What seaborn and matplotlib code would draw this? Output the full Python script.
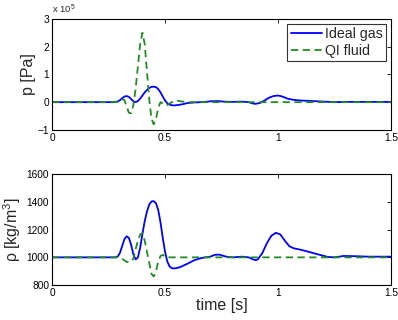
import numpy as np
import pandas as pd
import matplotlib
matplotlib.use("Agg")
import matplotlib.pyplot as plt
import seaborn as sns
from matplotlib.ticker import FuncFormatter

# pressure perturbation [Pa]
t_p_ideal = [0, 0.27, 0.29, 0.30, 0.31, 0.32, 0.33, 0.34, 0.35, 0.36, 0.37, 0.38, 0.39, 0.40,
             0.41, 0.42, 0.43, 0.44, 0.45, 0.46, 0.47, 0.48, 0.49, 0.50, 0.51, 0.52, 0.53, 0.54,
             0.56, 0.58, 0.60, 0.63, 0.66, 0.70, 0.73, 0.76, 0.80, 0.84, 0.87, 0.89, 0.90, 0.92,
             0.94, 0.96, 0.98, 1.00, 1.02, 1.04, 1.07, 1.10, 1.15, 1.20, 1.25, 1.30, 1.40, 1.50]
p_ideal = [0, 0, 0.02e5, 0.07e5, 0.14e5, 0.20e5, 0.22e5, 0.19e5, 0.11e5, 0.03e5, 0.0, 0.04e5,
           0.13e5, 0.24e5, 0.35e5, 0.44e5, 0.51e5, 0.55e5, 0.56e5, 0.54e5, 0.47e5, 0.35e5,
           0.20e5, 0.06e5, -0.04e5, -0.09e5, -0.11e5, -0.12e5, -0.10e5, -0.07e5, -0.03e5,
           -0.01e5, 0.0, 0.03e5, 0.04e5, 0.02e5, 0.01e5, 0.02e5, 0.0, -0.05e5, -0.06e5,
           -0.03e5, 0.06e5, 0.16e5, 0.22e5, 0.24e5, 0.20e5, 0.13e5, 0.08e5, 0.06e5, 0.04e5,
           0.02e5, 0.0, 0.01e5, 0.01e5, 0.01e5]

t_p_qi = [0, 0.28, 0.30, 0.31, 0.32, 0.33, 0.34, 0.35, 0.36, 0.37, 0.38, 0.39, 0.40, 0.41,
          0.42, 0.43, 0.44, 0.45, 0.46, 0.47, 0.48, 0.49, 0.50, 0.51, 0.53, 0.55, 0.57, 0.60, 1.50]
p_qi = [0, 0, 0.05e5, 0.10e5, 0.08e5, -0.15e5, -0.38e5, -0.40e5, -0.10e5, 0.5e5, 1.3e5,
        2.1e5, 2.5e5, 2.1e5, 1.1e5, 0.1e5, -0.6e5, -0.8e5, -0.6e5, -0.2e5, 0.0, -0.05e5,
        -0.12e5, -0.10e5, 0.0, 0.06e5, 0.03e5, 0.0, 0]

# density [kg/m3]
t_rho_ideal = [0, 0.28, 0.29, 0.30, 0.31, 0.32, 0.33, 0.34, 0.35, 0.36, 0.37, 0.38, 0.39, 0.40,
               0.41, 0.42, 0.43, 0.44, 0.45, 0.46, 0.47, 0.48, 0.49, 0.50, 0.51, 0.52, 0.53,
               0.54, 0.55, 0.57, 0.60, 0.63, 0.66, 0.70, 0.72, 0.74, 0.77, 0.80, 0.84, 0.87,
               0.89, 0.90, 0.91, 0.93, 0.95, 0.97, 0.99, 1.01, 1.03, 1.05, 1.07, 1.10, 1.14,
               1.18, 1.22, 1.25, 1.29, 1.35, 1.40, 1.50]
rho_ideal = [1000, 1000, 1005, 1030, 1080, 1130, 1152, 1140, 1090, 1020, 985, 1000, 1070, 1170,
             1260, 1330, 1380, 1403, 1405, 1390, 1340, 1250, 1140, 1040, 970, 935, 922, 920,
             922, 932, 955, 980, 995, 1005, 1018, 1020, 1005, 1000, 1005, 1000, 985, 980, 985,
             1030, 1100, 1155, 1177, 1165, 1120, 1080, 1065, 1055, 1038, 1020, 1003, 1000,
             1010, 1008, 1005, 1005]

t_rho_qi = [0, 0.29, 0.31, 0.33, 0.345, 0.36, 0.37, 0.38, 0.39, 0.40, 0.41, 0.42, 0.43, 0.44,
            0.45, 0.46, 0.47, 0.48, 0.49, 0.50, 0.52, 1.50]
rho_qi = [1000, 1000, 990, 968, 965, 990, 1060, 1120, 1165, 1175, 1120, 1040, 960, 880, 862,
          900, 970, 1010, 1018, 1005, 1000, 1000]

labels = ["Ideal gas", "QI fluid"]

df_p = pd.concat([pd.DataFrame({"t": t_p_ideal, "v": p_ideal, "fluid": labels[0]}),
                  pd.DataFrame({"t": t_p_qi, "v": p_qi, "fluid": labels[1]})])
df_rho = pd.concat([pd.DataFrame({"t": t_rho_ideal, "v": rho_ideal, "fluid": labels[0]}),
                    pd.DataFrame({"t": t_rho_qi, "v": rho_qi, "fluid": labels[1]})])

sns.set_style("white")
plt.rcParams["font.family"] = ["Liberation Sans", "DejaVu Sans"]
plt.rcParams["mathtext.default"] = "regular"

pal = {labels[0]: "#0000ff", labels[1]: "#228b22"}
dash = {labels[0]: "", labels[1]: (4, 2.5)}

fig = plt.figure(figsize=(3.98, 3.2), dpi=100)
ax1 = fig.add_axes([0.1307, 0.594, 0.852, 0.347])
ax2 = fig.add_axes([0.1307, 0.109, 0.852, 0.347])

sns.lineplot(data=df_p, x="t", y="v", hue="fluid", style="fluid", palette=pal,
             dashes=dash, lw=1.3, ax=ax1, sort=False, estimator=None)
sns.lineplot(data=df_rho, x="t", y="v", hue="fluid", style="fluid", palette=pal,
             dashes=dash, lw=1.3, ax=ax2, sort=False, estimator=None, legend=False)

for ax in (ax1, ax2):
    ax.set_xlim(0, 1.5)
    ax.set_xticks([0, 0.5, 1, 1.5])
    ax.set_xticklabels(["0", "0.5", "1", "1.5"])
    ax.tick_params(direction="in", length=3, width=0.6, top=True, right=True,
                   labelsize=7.3, pad=2, colors="black")
    for s in ax.spines.values():
        s.set_visible(True)
        s.set_color("black")
        s.set_linewidth(0.8)
    ax.set_xlabel("")

ax1.set_ylim(-1e5, 3e5)
ax1.set_yticks([-1e5, 0, 1e5, 2e5, 3e5])
ax1.yaxis.set_major_formatter(FuncFormatter(lambda v, pos: "\u22121" if v < 0 else f"{v/1e5:.0f}"))
ax1.text(0.0, 1.025, "x 10$^5$", transform=ax1.transAxes, fontsize=6.8, va="bottom", ha="left")
ax1.set_ylabel("p [Pa]", fontsize=11.5, labelpad=1)
leg = ax1.legend(loc="upper right", fontsize=10.2, frameon=True, fancybox=False,
                 edgecolor="black", handlelength=2.2, borderpad=0.25, labelspacing=0.15,
                 handletextpad=0.2, borderaxespad=0.35)
leg.get_frame().set_linewidth(0.8)
leg.set_title(None)

ax2.set_ylim(800, 1600)
ax2.set_yticks([800, 1000, 1200, 1400, 1600])
ax2.set_ylabel("\u03c1 [kg/m$^3$]", fontsize=11.5, labelpad=3)
ax2.set_xlabel("time [s]", fontsize=11.5, labelpad=0)

fig.savefig("out.png", dpi=100, facecolor="white")
